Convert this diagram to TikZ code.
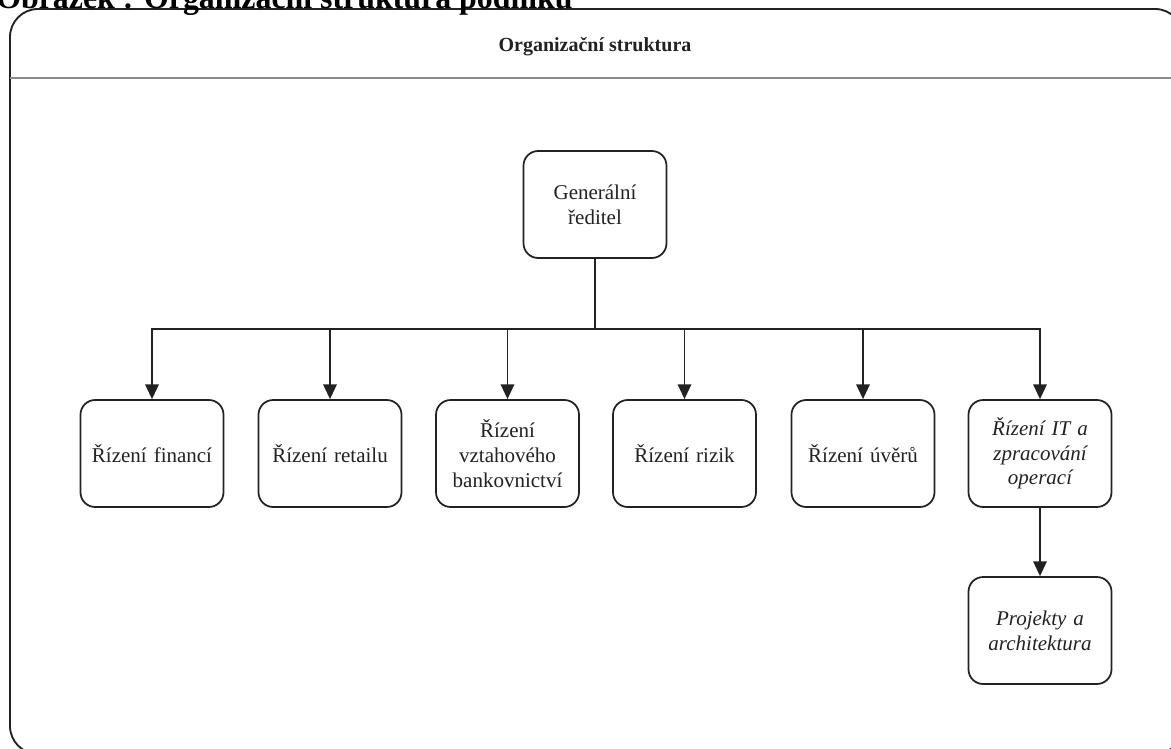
\documentclass[tikz,border=0pt]{standalone}
\usepackage{fontspec}
\setmainfont{Liberation Serif}
\usetikzlibrary{arrows.meta}
\definecolor{ln}{HTML}{222222}
\definecolor{hd}{HTML}{8A8A8A}
\tikzset{
  unitbox/.style={draw=ln, line width=1.3pt, rounded corners=11pt, fill=white,
    minimum width=107.25pt, minimum height=80.25pt, align=center, text width=100pt,
    font=\fontsize{15.75}{18.5}\selectfont, text=ln, inner sep=0pt},
  itbox/.style={unitbox, font=\fontsize{15.75}{18.5}\selectfont\itshape},
  conn/.style={draw=ln, line width=1.3pt, -{Triangle[length=11pt,width=10pt]}},
  plain/.style={draw=ln, line width=1.3pt},
  frame/.style={draw=ln, line width=1.4pt, rounded corners=21pt},
}
\begin{document}
\begin{tikzpicture}[x=0.75pt, y=-0.75pt]
\clip (0,0) rectangle (1171,749);
\fill[white] (0,0) rectangle (1171,749);
% outer container
\draw[frame] (10,9) rectangle (1183,754);
\draw[hd, line width=0.8pt] (10,78) -- (1183,78);
\node[font=\fontsize{23.9}{26}\selectfont\bfseries, anchor=base west, inner sep=0pt] (cap) at (-4,9) {Obrázek : Organizační struktura podniku};
\node[font=\fontsize{15}{18}\selectfont\bfseries, text=ln] (title) at (595,47) {Organizační struktura};
% nodes
\node[unitbox] (gen) at (595,204.5) {Generální\\ředitel};
\node[unitbox] (fin) at (152,453.5) {Řízení financí};
\node[unitbox] (ret) at (330,453.5) {Řízení retailu};
\node[unitbox] (vzt) at (507.5,453.5) {Řízení\\vztahového\\bankovnictví};
\node[unitbox] (riz) at (684.5,453.5) {Řízení rizik};
\node[unitbox] (uve) at (863,453.5) {Řízení úvěrů};
\node[itbox] (it) at (1040,453.5) {Řízení IT a\\zpracování\\operací};
\node[itbox] (proj) at (1040,630.5) {Projekty a\\architektura};
% connectors
\coordinate (bus) at (595,329);
\draw[plain] (gen.south) -- (bus);
\foreach \n in {fin,ret,vzt,riz,uve,it}{
  \draw[conn] (bus) -| (\n.north);
}
\draw[conn] (it.south) -- (proj.north);
\end{tikzpicture}
\end{document}
